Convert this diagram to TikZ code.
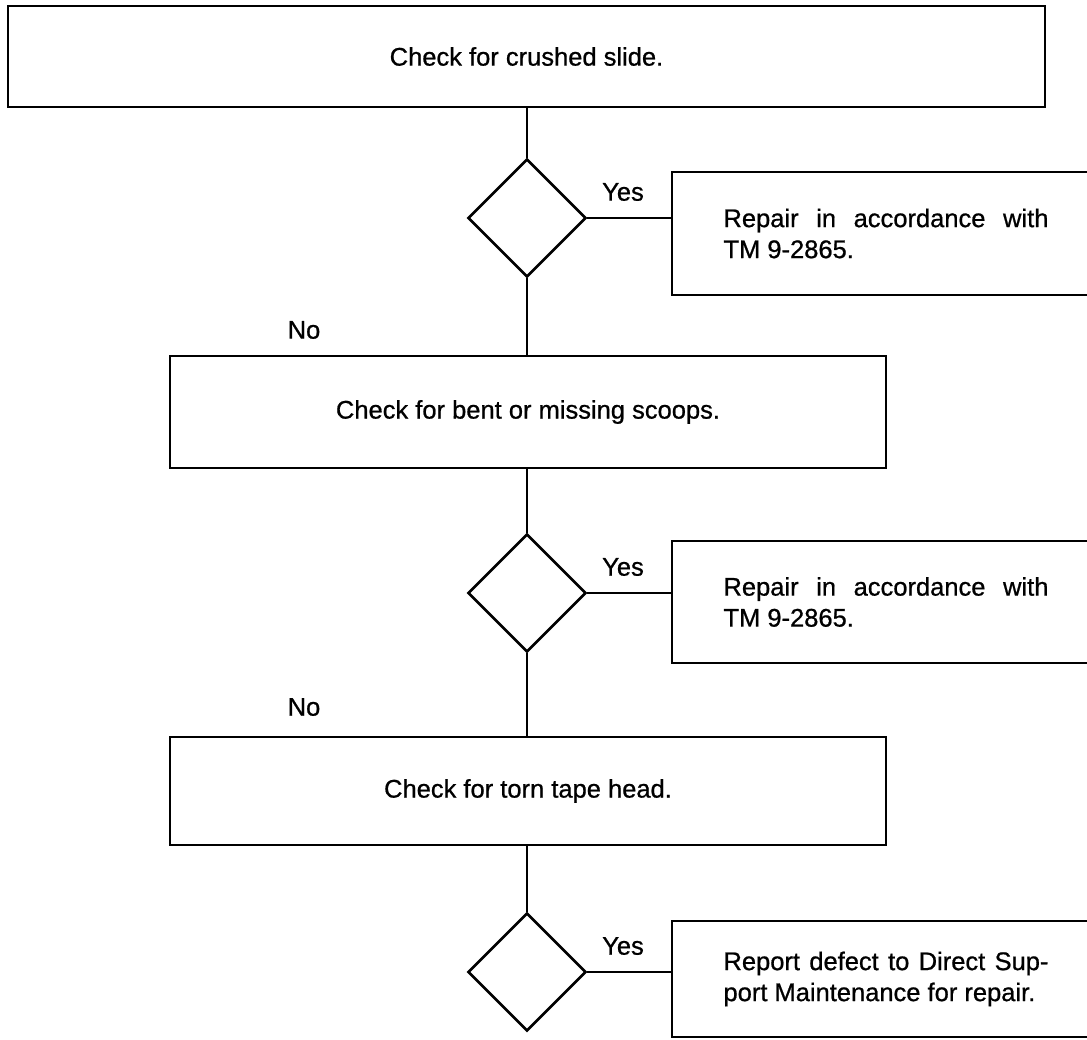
\documentclass[tikz,border=0pt]{standalone}
\usepackage{fontspec}
\setmainfont{Liberation Sans}
\newfontfamily\scanfont[FakeBold=0.8]{Liberation Sans}
\usetikzlibrary{shapes.geometric}
\begin{document}
\begin{tikzpicture}[x=1pt,y=-1pt,line width=2.6pt,
  txt/.style={font=\scanfont\fontsize{25.5}{31}\selectfont},
  mainbox/.style={draw,rectangle,inner sep=0pt,txt},
  repbox/.style={draw,rectangle,inner sep=0pt,txt,minimum width=428pt,text width=325pt,align=justify},
  decision/.style={draw,diamond,minimum width=118pt,minimum height=118pt,inner sep=0pt},
  lbl/.style={inner sep=0pt,txt}]
\clip (0,0) rectangle (1087,1040);
% main boxes
\node[mainbox,minimum width=1037pt,minimum height=101pt] (top) at (526.5,56.5) {Check for crushed slide.};
\node[mainbox,minimum width=716pt,minimum height=112pt] (b2) at (528,412) {Check for bent or missing scoops.};
\node[mainbox,minimum width=716pt,minimum height=108pt] (b3) at (528,791) {Check for torn tape head.};
% decisions
\node[decision] (d1) at (527,218) {};
\node[decision] (d2) at (527,593) {};
\node[decision] (d3) at (527,972) {};
% repair boxes
\node[repbox,minimum height=123pt] (r1) at (886,233.5) {Repair in accordance with\linebreak TM 9-2865.};
\node[repbox,minimum height=122pt] (r2) at (886,602) {Repair in accordance with\linebreak TM 9-2865.};
\node[repbox,minimum height=116pt] (r3) at (886,979) {Report defect to Direct Sup-\linebreak port Maintenance for repair.};
% labels
\node[lbl] (y1) at (623,192) {Yes};
\node[lbl] (y2) at (623,567) {Yes};
\node[lbl] (y3) at (623,946) {Yes};
\node[lbl] (n1) at (304,330) {No};
\node[lbl] (n2) at (304,707) {No};
% connectors
\draw (d1.north) -- (d1.north |- top.south);
\draw (d1.south) -- (d1.south |- b2.north);
\draw (d2.north) -- (d2.north |- b2.south);
\draw (d2.south) -- (d2.south |- b3.north);
\draw (d3.north) -- (d3.north |- b3.south);
\draw (d1.east) -- (d1.east -| r1.west);
\draw (d2.east) -- (d2.east -| r2.west);
\draw (d3.east) -- (d3.east -| r3.west);
\end{tikzpicture}
\end{document}
